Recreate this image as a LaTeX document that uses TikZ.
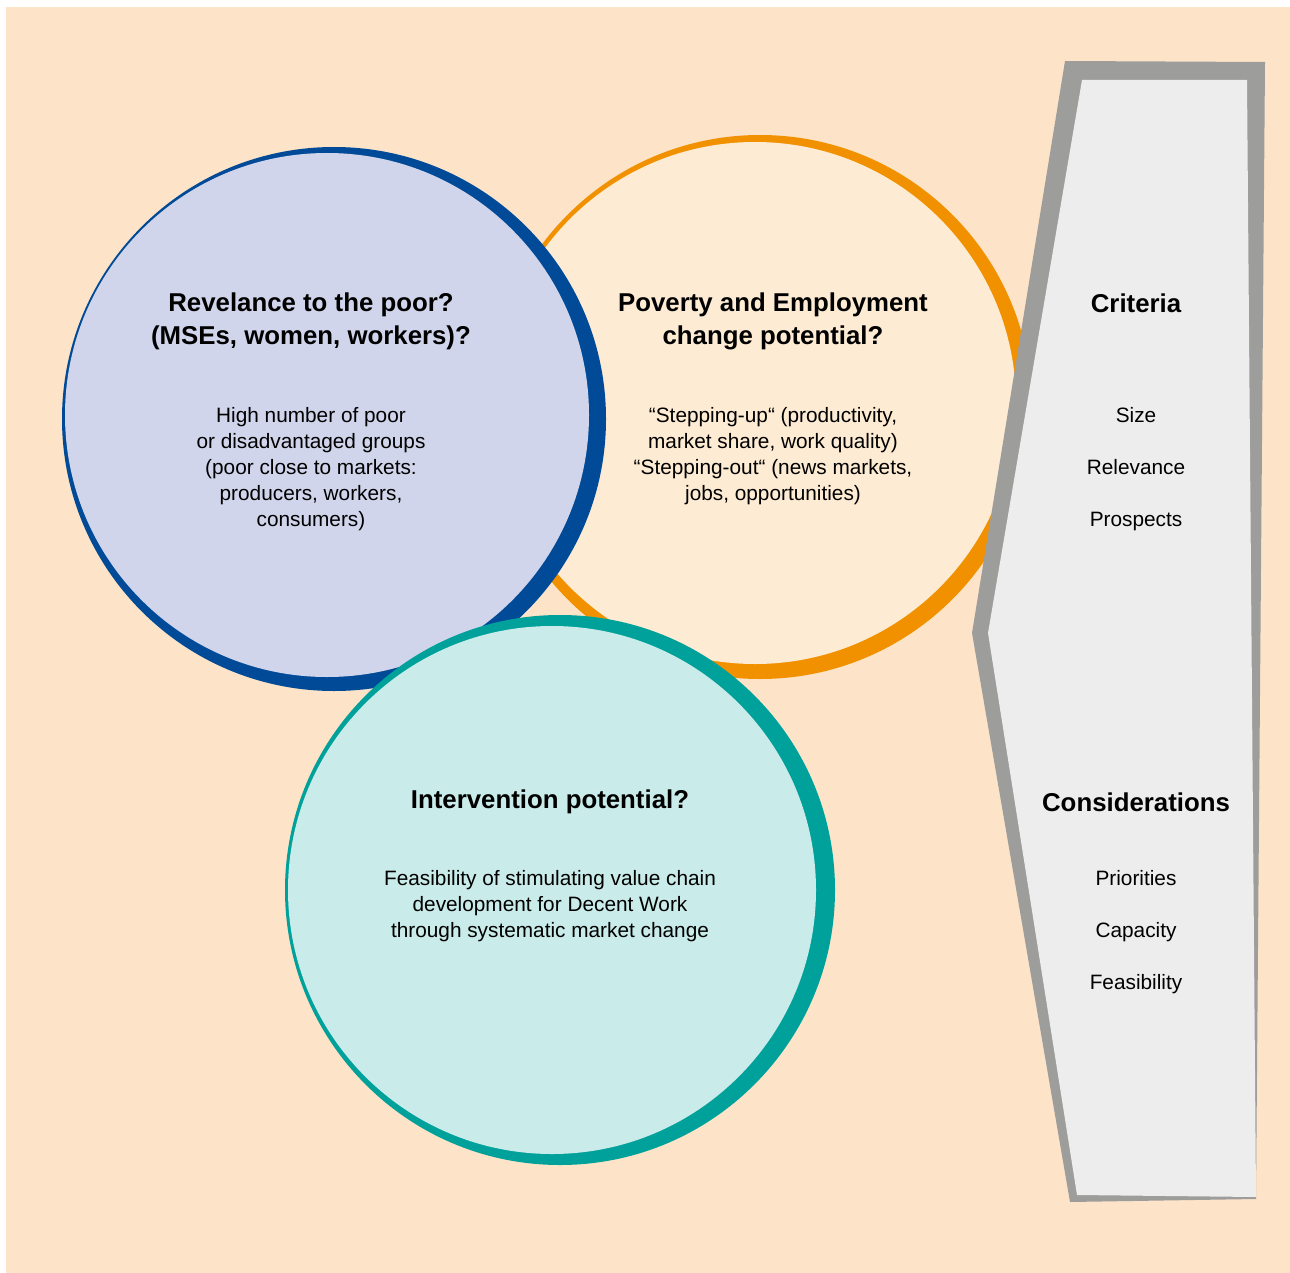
\documentclass[tikz,border=0pt]{standalone}
\usepackage{fontspec}
\setmainfont{Liberation Sans}
\definecolor{bgpeach}{RGB}{253,228,200}
\definecolor{ringblue}{RGB}{0,74,151}
\definecolor{fillblue}{RGB}{208,213,235}
\definecolor{ringorange}{RGB}{242,145,0}
\definecolor{fillorange}{RGB}{253,235,211}
\definecolor{ringteal}{RGB}{0,161,154}
\definecolor{fillteal}{RGB}{201,235,234}
\definecolor{framegray}{RGB}{157,157,156}
\definecolor{panelgray}{RGB}{237,237,237}
\tikzset{
  headtext/.style={align=center, inner sep=0pt, font=\fontsize{25.8}{33}\selectfont\bfseries},
  bodytext/.style={align=center, inner sep=0pt, font=\fontsize{20.8}{26}\selectfont},
  itemtext/.style={inner sep=0pt, text height=15pt, text depth=4pt, font=\fontsize{20.8}{26}\selectfont},
}
\begin{document}
\begin{tikzpicture}[x=1pt,y=-1pt]
\useasboundingbox (0,0) rectangle (1290,1273);
\fill[white] (0,0) rectangle (1290,1273);
\fill[bgpeach] (6,7) rectangle (1290,1273);
% orange circle
\fill[ringorange] (760,407) circle[radius=272];
\fill[fillorange] (755,403) circle[radius=261];
% gray panel
\fill[framegray] (1065,61) -- (1265,62) -- (1256,1199) -- (1070,1202) -- (972,633) -- cycle;
\fill[panelgray] (1082,80) -- (1247,80) -- (1256,1197) -- (1077,1195) -- (988,633) -- cycle;
% blue circle
\fill[ringblue] (334,419) circle[radius=272];
\fill[fillblue] (327,415) circle[radius=262];
% teal circle
\fill[ringteal] (560,890) circle[radius=275];
\fill[fillteal] (552,890) circle[radius=264];
% texts
\node[headtext] (bluehead) at (311,321) {Revelance to the poor?\\(MSEs, women, workers)?};
\node[bodytext] (bluebody) at (311,469) {High number of poor\\or disadvantaged groups\\(poor close to markets:\\producers, workers,\\consumers)};
\node[headtext] (orangehead) at (773,321) {Poverty and Employment\\change potential?};
\node[bodytext] (orangebody) at (773,456) {“Stepping-up“ (productivity,\\market share, work quality)\\“Stepping-out“ (news markets,\\jobs, opportunities)};
\node[headtext] (tealhead) at (550,802) {Intervention potential?};
\node[bodytext] (tealbody) at (550,906) {Feasibility of stimulating value chain\\development for Decent Work\\through systematic market change};
\node[headtext] (crit) at (1136,303) {Criteria};
\node[itemtext] (size) at (1136,417) {Size};
\node[itemtext] (relev) at (1136,469) {Relevance};
\node[itemtext] (prosp) at (1136,521) {Prospects};
\node[headtext] (cons) at (1136,802) {Considerations};
\node[itemtext] (prio) at (1136,880) {Priorities};
\node[itemtext] (capa) at (1136,932) {Capacity};
\node[itemtext] (feas) at (1136,984) {Feasibility};
\end{tikzpicture}
\end{document}
